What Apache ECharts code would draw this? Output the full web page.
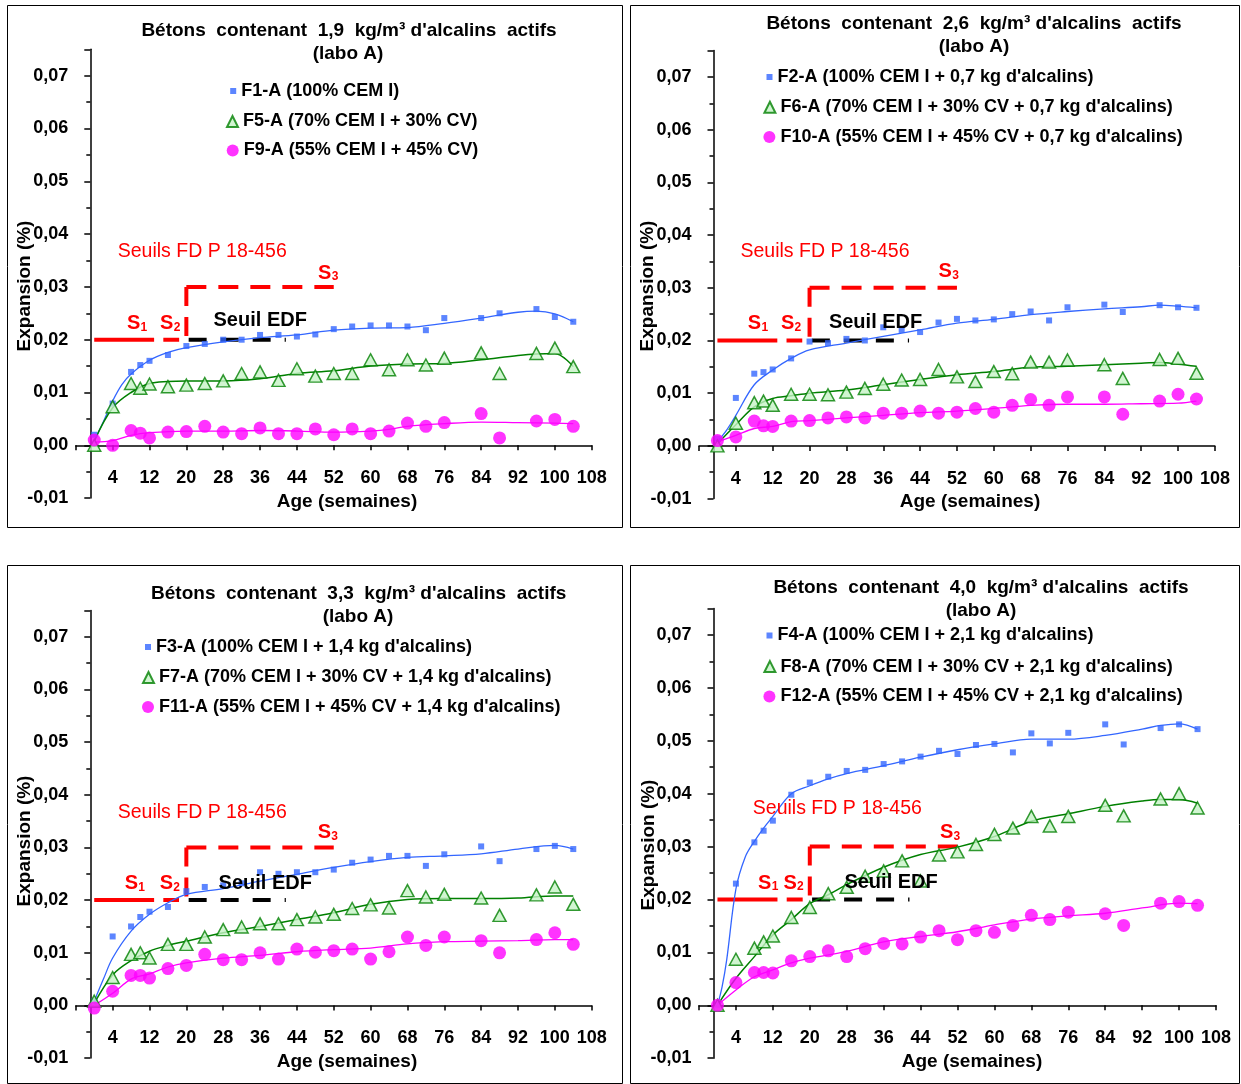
<!DOCTYPE html>
<html><head><meta charset="utf-8">
<script src="https://cdn.jsdelivr.net/npm/echarts@6/dist/echarts.min.js"></script>
<style>html,body{margin:0;padding:0;background:#fff}#c{width:1241px;height:1084px}</style>
</head><body><div id="c"></div>
<script>
// ---------- DATA ----------
const weeks = [0,4,8,10,12,16,20,24,28,32,36,40,44,48,52,56,60,64,68,72,76,84,88,96,100,104];

const F1  = [0.0020,0.0079,0.0139,0.0152,0.0160,0.0171,0.0188,0.0192,0.0200,0.0200,0.0209,0.0209,0.0206,0.0210,0.0220,0.0225,0.0227,0.0227,0.0225,0.0218,0.0241,0.0241,0.0250,0.0258,0.0243,0.0234];
const F5  = [0.0000,0.0073,0.0117,0.0108,0.0116,0.0111,0.0114,0.0117,0.0122,0.0136,0.0139,0.0123,0.0145,0.0131,0.0136,0.0136,0.0162,0.0143,0.0162,0.0152,0.0165,0.0175,0.0136,0.0174,0.0184,0.0149];
const F9  = [0.0010,0.0000,0.0028,0.0023,0.0014,0.0025,0.0026,0.0036,0.0025,0.0022,0.0033,0.0022,0.0022,0.0031,0.0020,0.0031,0.0022,0.0027,0.0042,0.0036,0.0043,0.0060,0.0014,0.0046,0.0049,0.0036];

const F2  = [0.0014,0.0091,0.0137,0.0140,0.0145,0.0166,0.0198,0.0195,0.0203,0.0200,0.0225,0.0220,0.0216,0.0234,0.0241,0.0238,0.0240,0.0250,0.0255,0.0238,0.0263,0.0268,0.0254,0.0267,0.0263,0.0262];
const F6  = [0.0000,0.0043,0.0082,0.0085,0.0077,0.0098,0.0098,0.0097,0.0102,0.0109,0.0117,0.0125,0.0126,0.0145,0.0131,0.0122,0.0141,0.0137,0.0159,0.0159,0.0163,0.0154,0.0128,0.0164,0.0166,0.0138];
const F10 = [0.0010,0.0017,0.0047,0.0038,0.0037,0.0047,0.0048,0.0053,0.0055,0.0053,0.0062,0.0062,0.0066,0.0062,0.0064,0.0071,0.0064,0.0077,0.0088,0.0077,0.0093,0.0093,0.0060,0.0085,0.0098,0.0089];

const F3  = [0.0008,0.0131,0.0150,0.0168,0.0178,0.0187,0.0217,0.0225,0.0228,0.0232,0.0253,0.0250,0.0253,0.0253,0.0258,0.0271,0.0277,0.0284,0.0284,0.0265,0.0287,0.0302,0.0274,0.0297,0.0303,0.0297];
const F7  = [0.0008,0.0053,0.0097,0.0100,0.0090,0.0116,0.0116,0.0130,0.0144,0.0149,0.0155,0.0155,0.0163,0.0168,0.0173,0.0184,0.0191,0.0185,0.0218,0.0206,0.0211,0.0204,0.0171,0.0210,0.0225,0.0192];
const F11 = [-0.0005,0.0027,0.0057,0.0057,0.0052,0.0070,0.0076,0.0097,0.0087,0.0087,0.0100,0.0088,0.0107,0.0101,0.0104,0.0107,0.0088,0.0102,0.0130,0.0114,0.0130,0.0123,0.0100,0.0125,0.0138,0.0116];

const F4  = [0.0000,0.0230,0.0308,0.0330,0.0349,0.0398,0.0421,0.0432,0.0443,0.0445,0.0456,0.0461,0.0470,0.0481,0.0475,0.0492,0.0494,0.0478,0.0514,0.0495,0.0515,0.0531,0.0493,0.0524,0.0531,0.0522];
const F8  = [0.0000,0.0087,0.0108,0.0120,0.0131,0.0166,0.0185,0.0211,0.0223,0.0244,0.0254,0.0273,0.0235,0.0284,0.0290,0.0304,0.0323,0.0335,0.0357,0.0339,0.0357,0.0378,0.0358,0.0390,0.0400,0.0373];
const F12 = [0.0000,0.0043,0.0062,0.0062,0.0061,0.0084,0.0092,0.0103,0.0092,0.0107,0.0117,0.0116,0.0129,0.0141,0.0124,0.0141,0.0138,0.0151,0.0170,0.0162,0.0176,0.0173,0.0151,0.0193,0.0196,0.0189];

// trend curves: [week, expansion]
const trendF1  = [[0,0.0008],[2,0.0045],[4,0.0084],[6,0.0115],[8,0.0135],[12,0.0161],[16,0.0176],[20,0.0185],[28,0.0196],[36,0.0204],[44,0.0209],[52,0.0218],[60,0.0222],[68,0.0223],[76,0.0231],[84,0.0241],[92,0.0252],[96,0.0254],[100,0.0249],[104,0.0234]];
const trendF5  = [[0,0.0008],[4,0.0071],[8,0.0100],[12,0.0117],[16,0.0121],[20,0.0122],[28,0.0122],[36,0.0126],[44,0.0136],[52,0.0141],[60,0.0150],[68,0.0154],[76,0.0155],[84,0.0162],[92,0.0170],[96,0.0173],[100,0.0174],[104,0.0149]];
const trendF9  = [[0,0.0006],[4,0.0009],[8,0.0019],[12,0.0024],[20,0.0027],[28,0.0027],[36,0.0028],[44,0.0027],[52,0.0025],[60,0.0027],[64,0.0030],[68,0.0036],[76,0.0041],[84,0.0044],[92,0.0043],[100,0.0042],[104,0.0041]];
const trendF2  = [[0,0.0008],[2,0.0030],[4,0.0058],[8,0.0116],[12,0.0144],[16,0.0166],[20,0.0182],[28,0.0195],[36,0.0208],[44,0.0220],[52,0.0233],[60,0.0240],[68,0.0249],[76,0.0255],[84,0.0260],[92,0.0264],[96,0.0267],[100,0.0265],[104,0.0262]];
const trendF6  = [[0,0.0004],[4,0.0040],[8,0.0074],[12,0.0090],[16,0.0095],[20,0.0100],[28,0.0106],[36,0.0116],[44,0.0126],[52,0.0135],[60,0.0141],[68,0.0149],[76,0.0151],[84,0.0154],[92,0.0157],[96,0.0158],[100,0.0155],[104,0.0151]];
const trendF10 = [[0,0.0008],[4,0.0020],[8,0.0033],[12,0.0037],[16,0.0046],[20,0.0048],[28,0.0053],[36,0.0058],[44,0.0063],[52,0.0066],[60,0.0071],[68,0.0077],[76,0.0079],[84,0.0079],[92,0.0080],[100,0.0081],[104,0.0085]];
const trendF3  = [[0,0.0008],[2,0.0050],[4,0.0090],[8,0.0141],[12,0.0173],[16,0.0195],[20,0.0211],[28,0.0222],[36,0.0236],[44,0.0249],[52,0.0262],[60,0.0273],[68,0.0281],[76,0.0284],[84,0.0288],[92,0.0297],[100,0.0304],[104,0.0297]];
const trendF7  = [[0,0.0004],[4,0.0058],[8,0.0085],[12,0.0103],[16,0.0114],[20,0.0122],[28,0.0138],[36,0.0150],[44,0.0163],[52,0.0176],[60,0.0192],[68,0.0201],[76,0.0203],[84,0.0203],[92,0.0204],[100,0.0208],[104,0.0208]];
const trendF11 = [[0,0.0000],[4,0.0023],[8,0.0050],[12,0.0060],[16,0.0073],[20,0.0081],[28,0.0090],[36,0.0095],[44,0.0102],[52,0.0106],[60,0.0109],[68,0.0117],[76,0.0121],[84,0.0122],[92,0.0123],[100,0.0125],[104,0.0125]];
const trendF4  = [[0,0.0000],[1,0.0035],[2,0.0086],[4,0.0220],[6,0.0280],[8,0.0310],[10,0.0335],[12,0.0357],[16,0.0400],[20,0.0415],[24,0.0428],[28,0.0438],[36,0.0453],[44,0.0469],[52,0.0483],[60,0.0494],[68,0.0503],[76,0.0503],[84,0.0510],[92,0.0522],[96,0.0529],[100,0.0532],[104,0.0522]];
const trendF8  = [[0,0.0000],[4,0.0051],[8,0.0092],[12,0.0133],[16,0.0162],[20,0.0192],[24,0.0209],[28,0.0228],[36,0.0261],[44,0.0285],[52,0.0299],[60,0.0319],[68,0.0348],[76,0.0362],[84,0.0376],[92,0.0386],[96,0.0389],[100,0.0389],[104,0.0382]];
const trendF12 = [[0,0.0000],[4,0.0029],[8,0.0054],[12,0.0067],[16,0.0080],[20,0.0089],[28,0.0102],[36,0.0120],[44,0.0130],[52,0.0139],[60,0.0152],[68,0.0163],[76,0.0169],[84,0.0174],[92,0.0184],[100,0.0193],[104,0.0192]];

// thresholds (FD P 18-456 and EDF)
const thrS1  = [[0,0.02],[13,0.02]];
const thrS2  = [[20,0.03],[20,0.02],[15,0.02]];
const thrS3  = [[20,0.03],[52,0.03]];
const thrEDF = [[20.5,0.02],[41.6,0.02]];

// tick labels
const xTickLabels = ['4','12','20','28','36','44','52','60','68','76','84','92','100','108'];
const yTickLabels = ['-0,01','0,00','0,01','0,02','0,03','0,04','0,05','0,06','0,07'];

// texts
const titleLines = [
  ["Bétons  contenant  1,9  kg/m³ d'alcalins  actifs", "(labo A)"],
  ["Bétons  contenant  2,6  kg/m³ d'alcalins  actifs", "(labo A)"],
  ["Bétons  contenant  3,3  kg/m³ d'alcalins  actifs", "(labo A)"],
  ["Bétons  contenant  4,0  kg/m³ d'alcalins  actifs", "(labo A)"]
];
const legendNames = [
  ["F1-A (100% CEM I)", "F5-A (70% CEM I + 30% CV)", "F9-A (55% CEM I + 45% CV)"],
  ["F2-A (100% CEM I + 0,7 kg d'alcalins)", "F6-A (70% CEM I + 30% CV + 0,7 kg d'alcalins)", "F10-A (55% CEM I + 45% CV + 0,7 kg d'alcalins)"],
  ["F3-A (100% CEM I + 1,4 kg d'alcalins)", "F7-A (70% CEM I + 30% CV + 1,4 kg d'alcalins)", "F11-A (55% CEM I + 45% CV + 1,4 kg d'alcalins)"],
  ["F4-A (100% CEM I + 2,1 kg d'alcalins)", "F8-A (70% CEM I + 30% CV + 2,1 kg d'alcalins)", "F12-A (55% CEM I + 45% CV + 2,1 kg d'alcalins)"]
];
const yName = 'Expansion (%)';
const xName = 'Age (semaines)';
const seuilsText = 'Seuils FD P 18-456';
const edfText = 'Seuil EDF';

// ---------- LAYOUT ----------
const FONT = "'Liberation Sans', Arial, Helvetica, sans-serif";
const grids = [
  {left:75.8, top:49.3, width:515.9, height:448.8},
  {left:699,  top:50.6, width:515.9, height:448.0},
  {left:75.8, top:610.5,width:515.9, height:447.6},
  {left:699,  top:608.5,width:517,   height:449.7}
];
const borders = [[7,5,615,522],[630,5,609,522],[7,565,615,518],[630,565,609,518]];
const titlePos = [[[349,30.4],[348,54]],[[974,23.7],[974,46.3]],[[358.7,593.4],[358,616.8]],[[981,587.4],[981,610.8]]];
const yNamePos = [[25,286],[648,286],[25,841],[649,845]];
const xNamePos = [[347,502],[970,502],[347,1062],[972,1062]];
// legend: [iconLeft, centerY] for each of 3 items
const legendPos = [
  [[230.2,90],[226,120.5],[226.7,149.5]],
  [[766.5,76],[763.4,106.3],[763.4,136]],
  [[145,646],[142,676.5],[142,706]],
  [[766.5,634.5],[763.4,665.6],[763.4,695.4]]
];
// annotation anchors in data coordinates [week, value] (left edge, middle)
const annot = [
  {seuils:[5.1,0.0366], s1:[7.1,0.0231], s2:[14.3,0.0231], s3:[48.6,0.0326], edf:[25.9,0.0236]},
  {seuils:[5.0,0.0368], s1:[6.6,0.0232], s2:[13.8,0.0232], s3:[48.0,0.0331], edf:[24.2,0.0235]},
  {seuils:[5.1,0.0366], s1:[6.6,0.0232], s2:[14.2,0.0232], s3:[48.5,0.0329], edf:[27.0,0.0232]},
  {seuils:[7.65,0.0371],s1:[8.8,0.0231], s2:[14.3,0.0231], s3:[48.2,0.0327], edf:[27.5,0.0232]}
];

const pointSets = [[F1,F5,F9],[F2,F6,F10],[F3,F7,F11],[F4,F8,F12]];
const trendSets = [[trendF1,trendF5,trendF9],[trendF2,trendF6,trendF10],[trendF3,trendF7,trendF11],[trendF4,trendF8,trendF12]];

const BLUE = '#3366FF', GREEN = '#008000', GREENFILL = '#c6f2c6', MAGENTA = '#FF00FF', RED = '#FF0000';
const styles = [
  {symbol:'rect', size:6, item:{color:BLUE}, line:BLUE, lw:1.3, icon:[6,6]},
  {symbol:'triangle', size:[13,12], item:{color:GREENFILL, borderColor:GREEN, borderWidth:1.5}, line:GREEN, lw:1.5, icon:[11,11]},
  {symbol:'circle', size:13, item:{color:MAGENTA}, line:MAGENTA, lw:1.3, icon:[12,12]}
];

const xMin = -4, xMax = 108, xStep = 8, xFirstLabel = 4;
const yMin = -0.01, yMax = 0.075, yStep = 0.01;

function xFmt(v){
  const i = Math.round((v - xFirstLabel)/xStep);
  return (v >= xFirstLabel && Math.abs(v - (xFirstLabel + i*xStep)) < 1e-9 && xTickLabels[i]) ? xTickLabels[i] : '';
}
function yFmt(v){
  const i = Math.round((v - yMin)/yStep);
  return (Math.abs(v - (yMin + i*yStep)) < 1e-9 && yTickLabels[i] !== undefined) ? yTickLabels[i] : '';
}

const tickFont = {fontSize:18, fontWeight:'bold', color:'#000', fontFamily:FONT};
const xAxes = [], yAxes = [], series = [], legends = [];
grids.forEach((g, p) => {
  // x axis drawn at value 0 of the y scale
  const zeroOffset = -g.height * (0 - yMin) / (yMax - yMin);
  xAxes.push({
    gridIndex:p, type:'value', min:xMin, max:xMax, interval:xStep, position:'bottom', offset:zeroOffset,
    axisLine:{show:true, onZero:false, lineStyle:{color:'#000', width:1.5}},
    axisTick:{show:true, length:5, lineStyle:{color:'#000', width:1.5}},
    axisLabel:Object.assign({formatter:xFmt, margin:24}, tickFont),
    splitLine:{show:false}
  });
  yAxes.push({
    gridIndex:p, type:'value', min:yMin, max:yMax, interval:yStep, position:'left', offset:-14.5,
    axisLine:{show:true, onZero:false, lineStyle:{color:'#000', width:1.5}},
    axisTick:{show:true, length:6, lineStyle:{color:'#000', width:1.5}},
    minorTick:{show:true, splitNumber:2, length:4, lineStyle:{color:'#000', width:1.5}},
    axisLabel:Object.assign({formatter:yFmt, margin:22, showMaxLabel:false}, tickFont),
    splitLine:{show:false}
  });
  // thresholds
  series.push({type:'line', xAxisIndex:p, yAxisIndex:p, data:thrS1, symbol:'none', silent:true, z:1,
    lineStyle:{color:RED, width:4, type:'solid', cap:'butt'}});
  series.push({type:'line', xAxisIndex:p, yAxisIndex:p, data:thrS2, symbol:'none', silent:true, z:1,
    lineStyle:{color:RED, width:4, type:[19,11], cap:'butt'}});
  series.push({type:'line', xAxisIndex:p, yAxisIndex:p, data:thrS3, symbol:'none', silent:true, z:1,
    lineStyle:{color:RED, width:4, type:[20,12], cap:'butt'}});
  series.push({type:'line', xAxisIndex:p, yAxisIndex:p, data:thrEDF, symbol:'none', silent:true, z:1,
    lineStyle:{color:'#000', width:4, type:[18,14], cap:'butt'}});
  // trends & points
  for (let k = 0; k < 3; k++) {
    const st = styles[k];
    series.push({type:'line', xAxisIndex:p, yAxisIndex:p, data:trendSets[p][k], smooth:0.35, symbol:'none', silent:true, z:3,
      lineStyle:{color:st.line, width:st.lw}});
  }
  for (let k = 0; k < 3; k++) {
    const st = styles[k];
    series.push({type:'scatter', name:legendNames[p][k], xAxisIndex:p, yAxisIndex:p,
      data:weeks.map((w,i) => [w, pointSets[p][k][i]]),
      symbol:st.symbol, symbolSize:st.size, itemStyle:st.item, z:5});
    const lp = legendPos[p][k];
    legends.push({
      data:[legendNames[p][k]], orient:'vertical', left:lp[0], top:lp[1] - 8, padding:0, itemGap:0,
      itemWidth:st.icon[0], itemHeight:st.icon[1], selectedMode:false,
      textStyle:{fontSize:18, fontWeight:'bold', color:'#000', fontFamily:FONT}
    });
  }
});

const chart = echarts.init(document.getElementById('c'), null, {renderer:'canvas'});
chart.setOption({
  animation:false, backgroundColor:'#fff',
  grid:grids.map(g => Object.assign({containLabel:false}, g)),
  xAxis:xAxes, yAxis:yAxes, series:series, legend:legends
});

// ---------- TEXT OVERLAYS ----------
const gfx = [];
borders.forEach(b => gfx.push({type:'rect', z:100, silent:true, shape:{x:b[0]+0.5, y:b[1]+0.5, width:b[2], height:b[3]},
  style:{fill:'none', stroke:'#000', lineWidth:1}}));
function txt(x, y, text, font, color, align, extra){
  return Object.assign({type:'text', z:110, silent:true, x:x, y:y,
    style:{text:text, font:font, fill:color, textAlign:align || 'left', textVerticalAlign:'middle'}}, extra || {});
}
grids.forEach((g, p) => {
  titleLines[p].forEach((t, j) => {
    const pos = titlePos[p][j];
    gfx.push(txt(pos[0], pos[1], t, 'bold 19px ' + FONT, '#000', 'center'));
  });
  gfx.push(txt(yNamePos[p][0], yNamePos[p][1], yName, 'bold 19px ' + FONT, '#000', 'center', {rotation:Math.PI/2}));
  gfx.push(txt(xNamePos[p][0], xNamePos[p][1], xName, 'bold 19px ' + FONT, '#000', 'center'));
  const a = annot[p];
  const px = c => chart.convertToPixel({gridIndex:p}, c);
  const ps = px(a.seuils);
  gfx.push(txt(ps[0], ps[1], seuilsText, '19.5px ' + FONT, RED, 'left'));
  const pe = px(a.edf);
  gfx.push(txt(pe[0], pe[1], edfText, 'bold 20px ' + FONT, '#000', 'left'));
  [['s1','1'],['s2','2'],['s3','3']].forEach(([key, sub]) => {
    const q = px(a[key]);
    gfx.push(txt(q[0], q[1], 'S', 'bold 20px ' + FONT, RED, 'left'));
    gfx.push(txt(q[0] + 13.6, q[1] + 4, sub, 'bold 12px ' + FONT, RED, 'left'));
  });
});
chart.setOption({graphic:gfx});
</script>
</body></html>
